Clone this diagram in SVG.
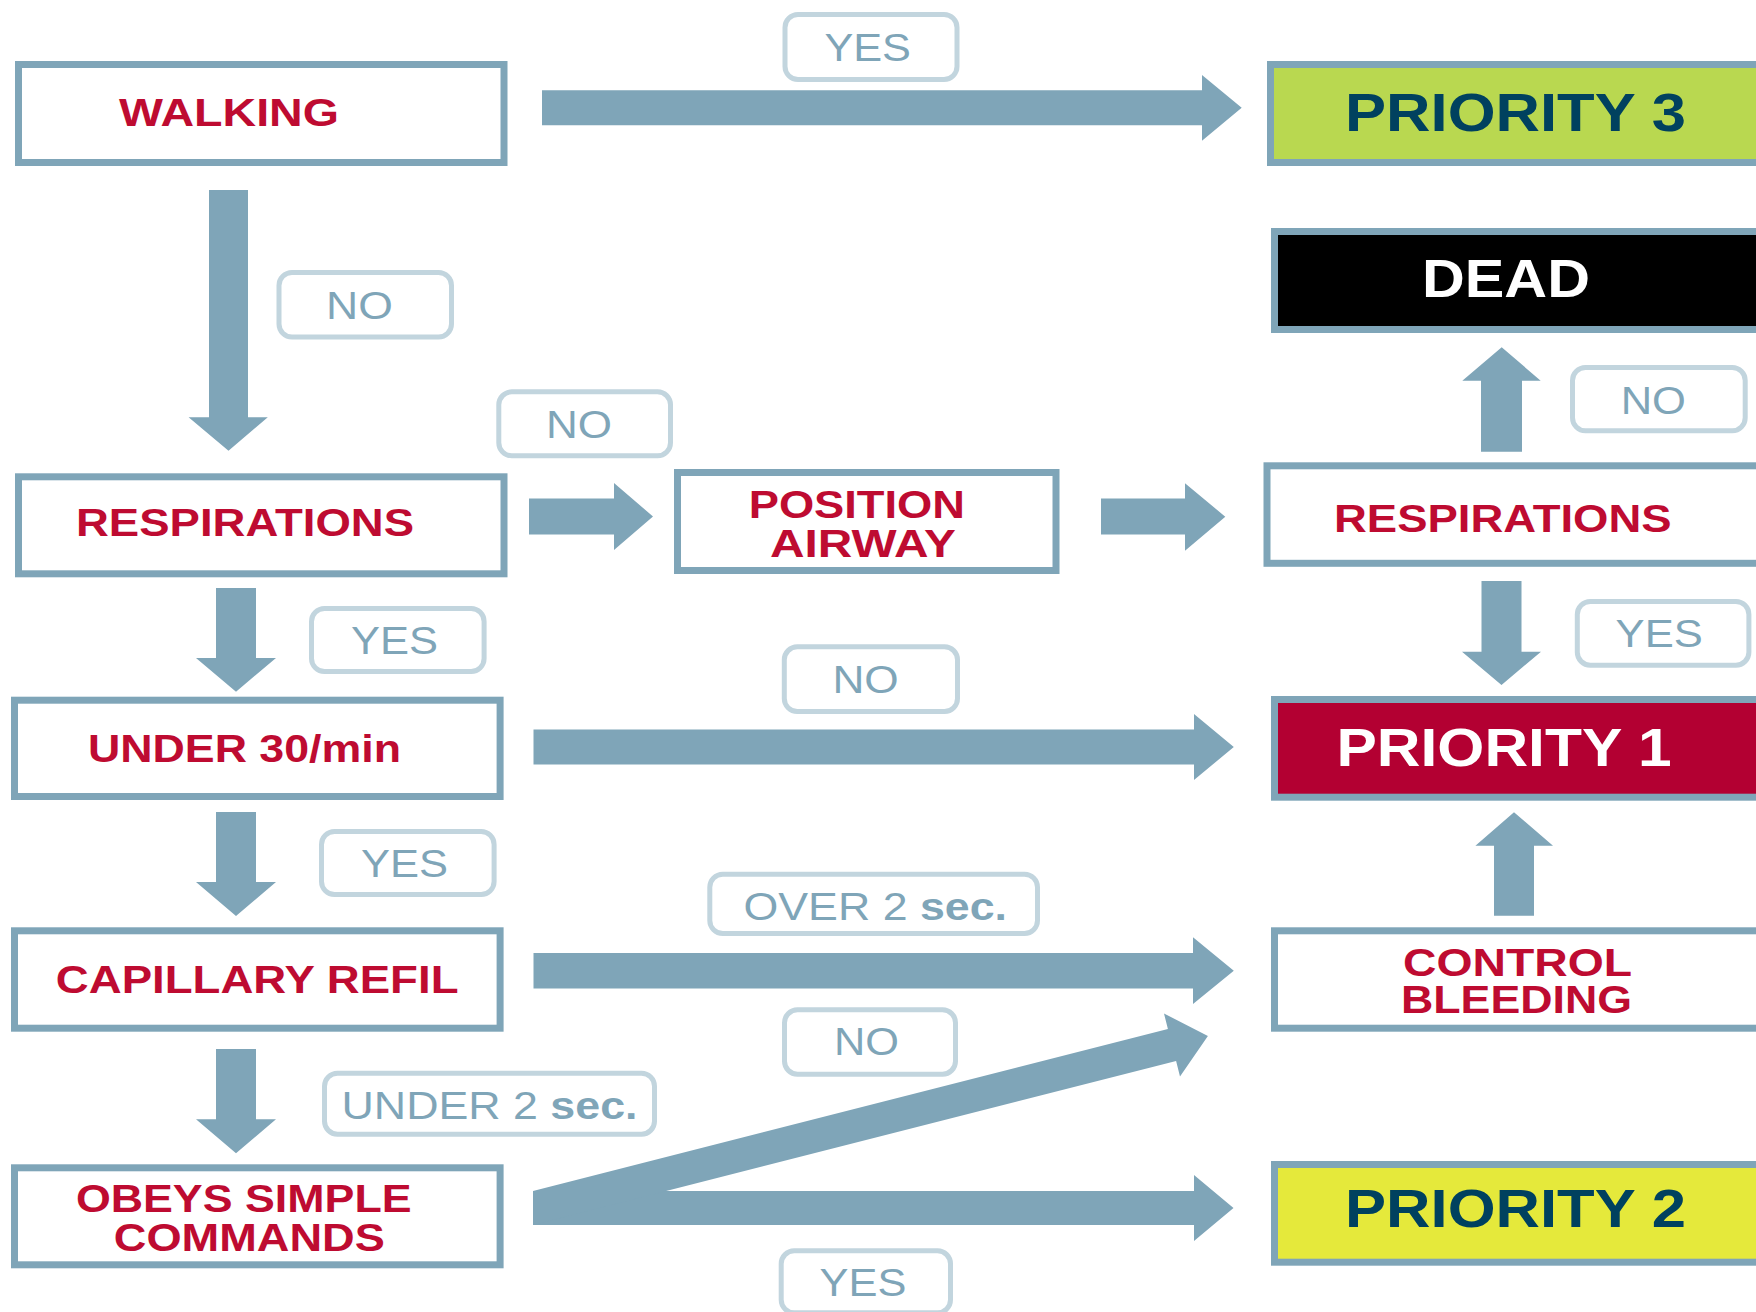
<svg xmlns="http://www.w3.org/2000/svg" width="1756" height="1312" viewBox="0 0 1756 1312">
<style>
.box{fill:#ffffff;stroke:#7fa5b8;stroke-width:7}
.p3{fill:#b9d850;stroke:#7fa5b8;stroke-width:7}
.p2{fill:#e5e93b;stroke:#7fa5b8;stroke-width:7}
.p1{fill:#b30032;stroke:#7fa5b8;stroke-width:7}
.dead{fill:#000000;stroke:#7fa5b8;stroke-width:7}
.t{font-family:"Liberation Sans",Arial,sans-serif;font-weight:bold;fill:#be0b31;font-size:38px}
.tp{font-family:"Liberation Sans",Arial,sans-serif;font-weight:bold;fill:#00415f;font-size:54px}
.tw{font-family:"Liberation Sans",Arial,sans-serif;font-weight:bold;fill:#ffffff;font-size:53px}
.arr{fill:#7fa5b8}
.lb{fill:#ffffff;stroke:#c2d5de;stroke-width:5}
.lt{font-family:"Liberation Sans",Arial,sans-serif;fill:#7fa5b8;font-size:38px}
</style>

<g id="connectors">
  <polygon class="arr" points="542,90.2 1202,90.2 1202,75 1241.7,107.7 1202,140.7 1202,125.2 542,125.2"/>
  <polygon class="arr" points="209,190 248,190 248,417.3 267.8,417.3 228.5,450.7 188.6,417.3 209,417.3"/>
  <polygon class="arr" points="529,498.5 614,498.5 614,483 653,516.5 614,550 614,534.5 529,534.5"/>
  <polygon class="arr" points="1101,498.5 1185,498.5 1185,483.3 1225.3,516.7 1185,550.7 1185,534.5 1101,534.5"/>
  <polygon class="arr" points="1481,451.7 1481,380.7 1462.3,380.7 1501.7,347.3 1540.7,380.7 1522,380.7 1522,451.7"/>
  <polygon class="arr" points="1481.5,581 1521.5,581 1521.5,651.7 1541,651.7 1501.5,685 1462,651.7 1481.5,651.7"/>
  <polygon class="arr" points="216,588 256,588 256,658 276,658 236,691.7 196,658 216,658"/>
  <polygon class="arr" points="533.5,729.5 1194,729.5 1194,714 1233.8,747 1194,780 1194,764.5 533.5,764.5"/>
  <polygon class="arr" points="216,812 256,812 256,882 276,882 236,916 196,882 216,882"/>
  <polygon class="arr" points="533.5,953 1193,953 1193,937.3 1233.8,970.7 1193,1004 1193,988.5 533.5,988.5"/>
  <polygon class="arr" points="1494,915.7 1494,845.7 1475.4,845.7 1514,812.3 1553,845.7 1534,845.7 1534,915.7"/>
  <polygon class="arr" points="216,1049 256,1049 256,1119.3 276,1119.3 236,1153.3 196,1119.3 216,1119.3"/>
  <polygon class="arr" points="533,1191 1194,1191 1194,1175 1233.5,1208 1194,1241 1194,1225 533,1225"/>
  <polygon class="arr" points="533,1191 1167.9,1029 1164,1013.5 1207.9,1035.9 1180,1076.5 1176.1,1061 533,1225"/>

  <g id="lbl-yes-top"><rect class="lb" x="785" y="14.5" width="172" height="65" rx="13"/><text class="lt" x="824.4" y="61" textLength="86.6" lengthAdjust="spacingAndGlyphs">YES</text></g>
  <g id="lbl-no-walk"><rect class="lb" x="279" y="272.5" width="172.5" height="64.5" rx="13"/><text class="lt" x="326" y="319" textLength="66.8" lengthAdjust="spacingAndGlyphs">NO</text></g>
  <g id="lbl-no-resp"><rect class="lb" x="498.8" y="391.8" width="171.7" height="64" rx="13"/><text class="lt" x="546" y="438.3" textLength="66" lengthAdjust="spacingAndGlyphs">NO</text></g>
  <g id="lbl-no-dead"><rect class="lb" x="1572.5" y="367.5" width="172.7" height="63.3" rx="13"/><text class="lt" x="1620.7" y="414" textLength="65.3" lengthAdjust="spacingAndGlyphs">NO</text></g>
  <g id="lbl-yes-resp"><rect class="lb" x="311.5" y="608.5" width="172.6" height="63" rx="13"/><text class="lt" x="351" y="654.3" textLength="87" lengthAdjust="spacingAndGlyphs">YES</text></g>
  <g id="lbl-no-under30"><rect class="lb" x="784.3" y="646.8" width="173.2" height="64.7" rx="13"/><text class="lt" x="832.4" y="692.7" textLength="66.3" lengthAdjust="spacingAndGlyphs">NO</text></g>
  <g id="lbl-yes-respr"><rect class="lb" x="1577.3" y="601.5" width="171.6" height="63.7" rx="13"/><text class="lt" x="1615.6" y="647.3" textLength="87.2" lengthAdjust="spacingAndGlyphs">YES</text></g>
  <g id="lbl-yes-under30"><rect class="lb" x="321.5" y="831.5" width="172.6" height="63" rx="13"/><text class="lt" x="361" y="877.3" textLength="87" lengthAdjust="spacingAndGlyphs">YES</text></g>
  <g id="lbl-over2"><rect class="lb" x="709.8" y="874.2" width="327.7" height="59.3" rx="13"/><text class="lt" x="743.5" y="920" textLength="263.5" lengthAdjust="spacingAndGlyphs">OVER 2 <tspan font-weight="bold">sec.</tspan></text></g>
  <g id="lbl-no-cap"><rect class="lb" x="784.5" y="1009.8" width="171" height="64.4" rx="13"/><text class="lt" x="834" y="1055" textLength="65" lengthAdjust="spacingAndGlyphs">NO</text></g>
  <g id="lbl-under2"><rect class="lb" x="324.5" y="1073.2" width="330" height="61" rx="13"/><text class="lt" x="341.5" y="1119" textLength="296" lengthAdjust="spacingAndGlyphs">UNDER 2 <tspan font-weight="bold">sec.</tspan></text></g>
  <g id="lbl-yes-obeys"><rect class="lb" x="781.2" y="1250.8" width="169.3" height="62" rx="13"/><text class="lt" x="819.6" y="1296" textLength="86.8" lengthAdjust="spacingAndGlyphs">YES</text></g>
</g>

<g id="walking"><rect class="box" x="18.5" y="64.5" width="485.5" height="98"/><text class="t" x="119" y="125.7" font-size="37" textLength="220" lengthAdjust="spacingAndGlyphs">WALKING</text></g>
<g id="priority3"><rect class="p3" x="1270.5" y="64.5" width="600" height="98"/><text class="tp" x="1345" y="130.7" textLength="341" lengthAdjust="spacingAndGlyphs">PRIORITY 3</text></g>
<g id="dead"><rect class="dead" x="1274.5" y="231.5" width="600" height="98"/><text class="tw" x="1422" y="297.3" font-size="52" textLength="168" lengthAdjust="spacingAndGlyphs">DEAD</text></g>
<g id="respirations1"><rect class="box" x="18.5" y="476.8" width="485.5" height="97"/><text class="t" x="76" y="536" font-size="39" textLength="338" lengthAdjust="spacingAndGlyphs">RESPIRATIONS</text></g>
<g id="position-airway"><rect class="box" x="677.5" y="472.5" width="378.5" height="98"/><text class="t" x="748.7" y="517.7" font-size="37" textLength="216.3" lengthAdjust="spacingAndGlyphs">POSITION</text><text class="t" x="770" y="556.7" font-size="37" textLength="186" lengthAdjust="spacingAndGlyphs">AIRWAY</text></g>
<g id="respirations2"><rect class="box" x="1267" y="465.8" width="600" height="97.5"/><text class="t" x="1334" y="531.7" textLength="337.6" lengthAdjust="spacingAndGlyphs">RESPIRATIONS</text></g>
<g id="under30"><rect class="box" x="14.5" y="700.2" width="485.6" height="96.3"/><text class="t" x="88" y="761.7" font-size="37" textLength="313" lengthAdjust="spacingAndGlyphs">UNDER 30/min</text></g>
<g id="priority1"><rect class="p1" x="1274.5" y="699.5" width="600" height="97.7"/><text class="tw" x="1336.5" y="766" font-size="54" textLength="335.1" lengthAdjust="spacingAndGlyphs">PRIORITY 1</text></g>
<g id="capillary"><rect class="box" x="14.5" y="930.8" width="485.6" height="97.4"/><text class="t" x="55.8" y="992.7" textLength="402.7" lengthAdjust="spacingAndGlyphs">CAPILLARY REFIL</text></g>
<g id="control-bleeding"><rect class="box" x="1274.5" y="930.8" width="600" height="97.4"/><text class="t" x="1403" y="975.7" font-size="37" textLength="229" lengthAdjust="spacingAndGlyphs">CONTROL</text><text class="t" x="1401" y="1013.3" font-size="37" textLength="231" lengthAdjust="spacingAndGlyphs">BLEEDING</text></g>
<g id="obeys"><rect class="box" x="14.5" y="1167.8" width="485.6" height="97"/><text class="t" x="75.9" y="1212.3" font-size="37" textLength="335.7" lengthAdjust="spacingAndGlyphs">OBEYS SIMPLE</text><text class="t" x="113.8" y="1251" font-size="37" textLength="271" lengthAdjust="spacingAndGlyphs">COMMANDS</text></g>
<g id="priority2"><rect class="p2" x="1274.5" y="1164.5" width="600" height="97.7"/><text class="tp" x="1345" y="1226.7" font-size="52" textLength="341" lengthAdjust="spacingAndGlyphs">PRIORITY 2</text></g>
</svg>
